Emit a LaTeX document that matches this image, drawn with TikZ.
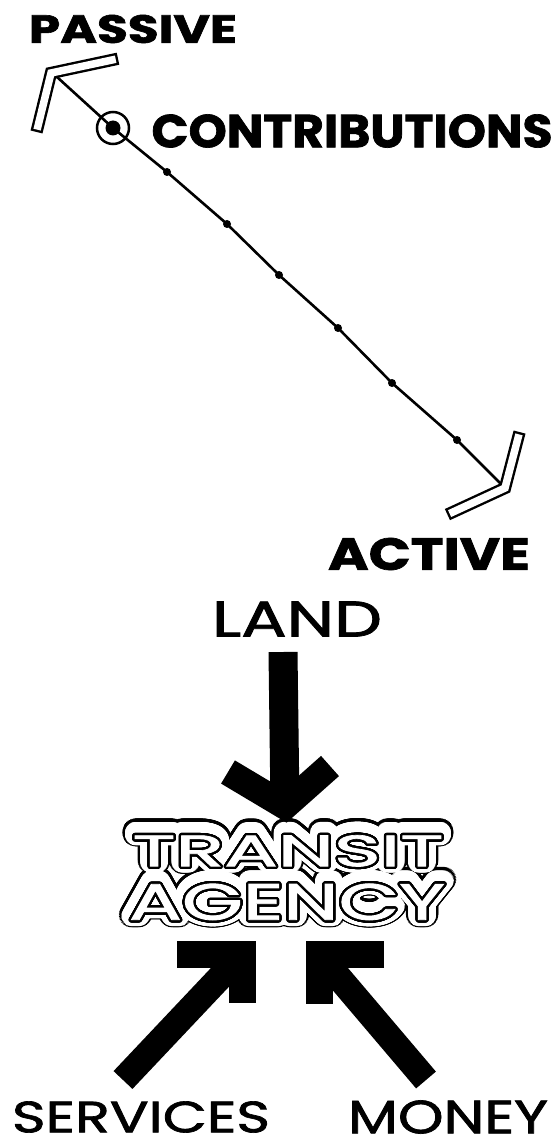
\documentclass[tikz,border=0pt]{standalone}
\usepackage{fontspec}
\setmainfont{Poppins}
\newfontfamily\heavyfont{Poppins}[BoldFeatures={FakeBold=1.5}]
\newfontfamily\midfont{Poppins}[FakeBold=1.5]
\usepackage{graphicx}
\usepackage{contour}
\usetikzlibrary{positioning}
\contournumber{48}
\newlength{\pxlen}
\setlength{\pxlen}{0.02cm}
\newcommand{\wordbox}[3]{\resizebox{#1\pxlen}{#2\pxlen}{#3}}
\newcommand{\bubbleword}[4]{{\contourlength{#1\pxlen}\color{#3}\contour{#2}{#4}}}

\begin{document}
\begin{tikzpicture}[x=0.02cm, y=-0.02cm,
  word/.style={inner sep=0pt, font=\midfont},
  heavy/.style={inner sep=0pt, font=\heavyfont\bfseries},
  notch/.style={circle, fill=black, inner sep=0pt, minimum size=8\pxlen},
  marker/.style={circle, fill=black, inner sep=0pt, minimum size=15\pxlen},
  ring/.style={circle, draw=black, line width=2.5\pxlen, inner sep=0pt, minimum size=32\pxlen},
  scaleline/.style={line width=2.6\pxlen, line join=round, line cap=round},
  bracket/.style={draw=black, line width=2.4\pxlen, double=white, double distance=7.5\pxlen, line cap=rect, line join=miter},
  fat/.style={line width=26\pxlen},
  fathead/.style={line width=27\pxlen, line join=miter}
]
\path[use as bounding box, fill=white] (0,0) rectangle (558,1142);

% passive -- active scale
\node[heavy] (passive) at (133,29) {\wordbox{208}{28}{PASSIVE}};
\node[heavy] (active) at (429,554) {\wordbox{202}{32}{ACTIVE}};
\coordinate (passtip) at (57,77);
\coordinate (acttip) at (500,483);
\node[marker] (contribpt) at (113,128) {};
\node[ring] (contribring) at (contribpt) {};
\node[heavy] (contrib) at (352,131) {\wordbox{401}{33}{CONTRIBUTIONS}};
\foreach \x/\y [count=\i] in {167/172, 227/224, 279/275, 338/328, 392/383, 457/440}
  \node[notch] (n\i) at (\x,\y) {};
\draw[scaleline] (passtip) -- (contribpt.center) -- (n1.center) -- (n2.center) -- (n3.center)
  -- (n4.center) -- (n5.center) -- (n6.center) -- (acttip);
\coordinate (passup) at (112,60);
\coordinate (passjoint) at (51,73);
\coordinate (passlow) at (38,126);
\draw[bracket] (passup) -- (passjoint) -- (passlow);
\coordinate (actup) at (518,438);
\coordinate (actjoint) at (505,488);
\coordinate (actlow) at (453,512);
\draw[bracket] (actup) -- (actjoint) -- (actlow);

% transit agency
\foreach \len/\ring/\ink [count=\i] in {12/black/black, 9.6/white/white, 2.3/black/white} {
  \node[word] (transit\i) at (288,852) {\bubbleword{\len}{\ring}{\ink}{\wordbox{311}{31}{TRANSIT}}};
  \node[word] (agency\i) at (287,903) {\bubbleword{\len}{\ring}{\ink}{\wordbox{316}{36}{AGENCY}}};
}

% land
\node[word] (land) at (297,619) {\wordbox{170}{35}{LAND}};
\coordinate (landtail) at (283,652);
\coordinate (landjoint) at (285,806);
\coordinate (landwl) at (228,772);
\coordinate (landwr) at (330,766);
\draw[fat, line width=29\pxlen] (landtail) -- (landjoint);
\draw[fathead] (landwl) -- (landjoint) -- (landwr);

% services and money
\node[word] (services) at (141,1117) {\wordbox{258}{31}{SERVICES}};
\coordinate (servtail) at (123,1080);
\coordinate (servjoint) at (242,954);
\coordinate (servwl) at (177,954);
\coordinate (servwb) at (242,1003);
\draw[fat] (servtail) -- (servjoint);
\draw[fathead] (servwl) -- (servjoint) -- (servwb);
\node[word] (money) at (448,1117) {\wordbox{200}{33}{MONEY}};
\coordinate (moneytail) at (426,1080);
\coordinate (moneyjoint) at (319,954);
\coordinate (moneywr) at (384,954);
\coordinate (moneywb) at (319,1004);
\draw[fat] (moneytail) -- (moneyjoint);
\draw[fathead] (moneywr) -- (moneyjoint) -- (moneywb);
\end{tikzpicture}
\end{document}
